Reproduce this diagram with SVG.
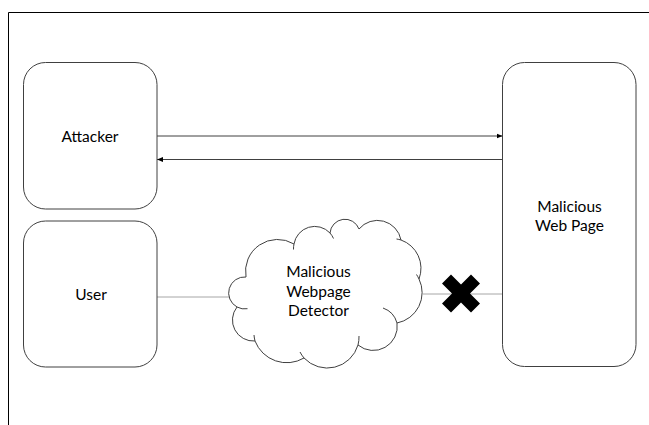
<svg xmlns="http://www.w3.org/2000/svg" width="649" height="425" viewBox="0 0 649 425">
  <defs>
    <style>
      .box { fill: #ffffff; stroke: #404040; stroke-width: 1; }
      .lbl { font-family: Lato, "Liberation Sans", sans-serif; font-size: 15.5px; fill: #000000; text-anchor: middle; }
      .arrow { stroke: #404040; stroke-width: 1; fill: none; }
      .link { stroke: #a6a6a6; stroke-width: 1; fill: none; }
      .tail { stroke: #404040; stroke-width: 1; fill: none; }
    </style>
    <marker id="ah" viewBox="0 0 10 10" refX="10" refY="5" markerWidth="6" markerHeight="6" markerUnits="userSpaceOnUse" orient="auto">
      <path d="M0,1 L10,5 L0,9 Z" fill="#000000"/>
    </marker>
  </defs>
  <rect width="649" height="425" fill="#ffffff"/>
  <g id="frame">
    <path d="M8.5,425 L8.5,12.5 L649,12.5" fill="none" stroke="#000000" stroke-width="1"/>
  </g>
  <g id="connectors">
    <line class="arrow" x1="157" y1="136" x2="502.5" y2="136" marker-end="url(#ah)"/>
    <line class="arrow" x1="502.5" y1="159.5" x2="157" y2="159.5" marker-end="url(#ah)"/>
    <line class="link" x1="157" y1="297" x2="229" y2="297"/>
    <line class="link" x1="423" y1="294" x2="502.5" y2="294"/>
  </g>
  <g id="attacker">
    <rect class="box" x="23.5" y="62.5" width="133.5" height="146.5" rx="22" ry="22"/>
    <text class="lbl" x="90" y="141.5">Attacker</text>
  </g>
  <g id="user">
    <rect class="box" x="23.5" y="221" width="133.5" height="146" rx="22" ry="22"/>
    <text class="lbl" x="91" y="300">User</text>
  </g>
  <g id="malicious-web-page">
    <rect class="box" x="502.5" y="62.5" width="133.5" height="304" rx="22" ry="22"/>
    <text class="lbl" x="569.5" y="211.5">Malicious</text>
    <text class="lbl" x="569.5" y="231">Web Page</text>
  </g>
  <g id="detector">
    <path class="box" d="M237,307 A16 16 0 0 1 246,277 A32 32 0 0 1 294,244 A21 21 0 0 1 330,233 A15 15 0 0 1 359,229 A24 24 0 0 1 401,240 A30 30 0 0 1 419,279 A31 31 0 0 1 397,323 A24 24 0 0 1 358,345 A32 32 0 0 1 304,358 A34 34 0 0 1 255,341 A21 21 0 0 1 237,307 Z"/>
    <path class="tail" d="M397,323 A22 22 0 0 0 383,308 M237,307 A16 16 0 0 0 247.5,308.7 M255,341 A34 34 0 0 1 254,335 M304,358 A32 32 0 0 1 300,352 M358,345 A32 32 0 0 0 359,336 M419,279 A31 31 0 0 0 416.5,274.5 M401,240 A30 30 0 0 0 396.5,239 M330,233 A21 21 0 0 1 333.5,238.5 M294,244 A21 21 0 0 0 293.5,249.5"/>
    <text class="lbl" x="318.5" y="277">Malicious</text>
    <text class="lbl" x="318.5" y="296.5">Webpage</text>
    <text class="lbl" x="318.5" y="316">Detector</text>
  </g>
  <g id="blocked">
    <polygon fill="#000000" points="442,283.5 451,274.5 461,284.5 471,274.5 480,283.5 470,293.5 480,303.5 471,312.5 461,302.5 451,312.5 442,303.5 452,293.5"/>
  </g>
</svg>
